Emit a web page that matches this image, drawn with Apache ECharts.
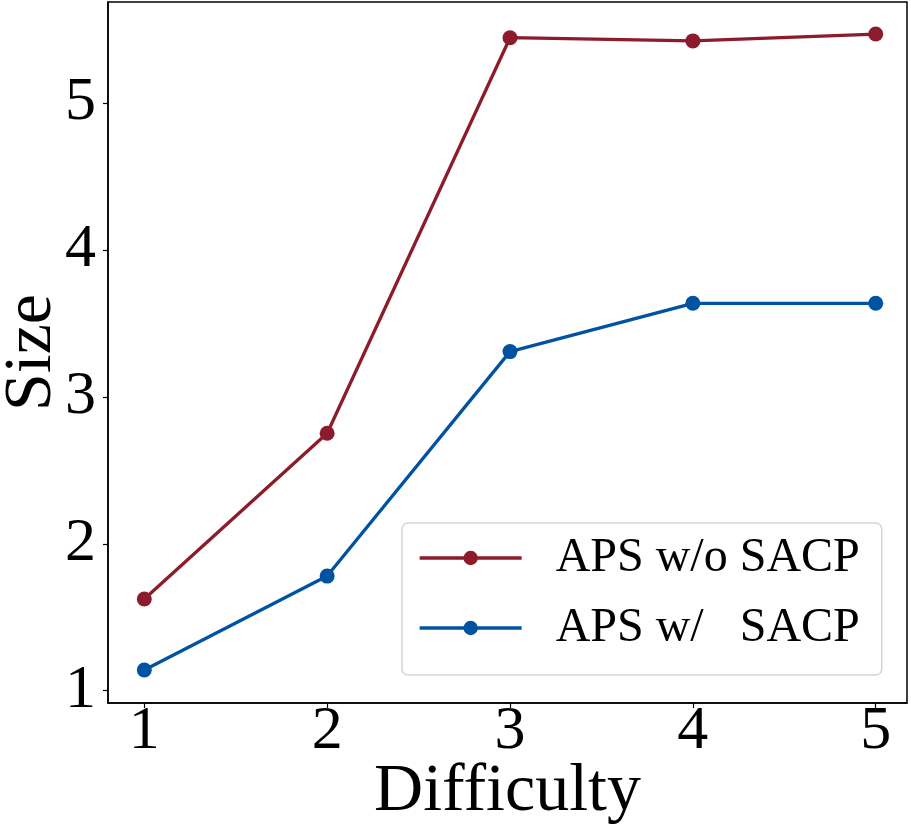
<!DOCTYPE html>
<html>
<head>
<meta charset="utf-8">
<script src="https://cdn.jsdelivr.net/npm/echarts@6/dist/echarts.min.js"></script>
<style>
  html, body { margin: 0; padding: 0; background: #fff; }
  #container { width: 911px; height: 832px; }
</style>
</head>
<body>
<div id="container"></div>
<script>
var difficulty = [1, 2, 3, 4, 5];
var sizeWithoutSacp = [1.624, 2.752, 5.445, 5.423, 5.47];
var sizeWithSacp = [1.141, 1.78, 3.308, 3.637, 3.637];
var xTicks = [1, 2, 3, 4, 5];
var yTicks = [1, 2, 3, 4, 5];
var seriesNames = ['APS w/o SACP', 'APS w/   SACP'];

var FONT = '"Liberation Serif", "Times New Roman", serif';

function pairs(xs, ys) {
  return xs.map(function (x, i) { return [x, ys[i]]; });
}

var dom = document.getElementById('container');
var myChart = echarts.init(dom, null, { renderer: 'canvas' });
var option;

option = {
  backgroundColor: '#fff',
  animation: false,
  grid: {
    left: 108,
    right: 4,
    top: 2,
    bottom: 129,
    show: true,
    borderColor: '#000',
    borderWidth: 1.5,
    containLabel: false,
    outerBoundsMode: 'none'
  },
  xAxis: {
    type: 'value',
    min: 0.8015,
    max: 5.171,
    name: 'Difficulty',
    nameLocation: 'middle',
    nameGap: 55,
    nameMoveOverlap: false,
    nameTextStyle: { fontFamily: FONT, fontSize: 68, color: '#000' },
    axisLine: { show: true, lineStyle: { color: '#000', width: 1.5 } },
    axisTick: { show: true, length: 5, customValues: xTicks, lineStyle: { color: '#000', width: 1.2 } },
    axisLabel: { customValues: xTicks, fontFamily: FONT, fontSize: 62, color: '#000', margin: -2 },
    splitLine: { show: false }
  },
  yAxis: {
    type: 'value',
    min: 0.916,
    max: 5.688,
    name: 'Size',
    nameLocation: 'middle',
    nameGap: 42,
    nameMoveOverlap: false,
    nameTextStyle: { fontFamily: FONT, fontSize: 68, color: '#000' },
    axisLine: { show: true, lineStyle: { color: '#000', width: 1.5 } },
    axisTick: { show: true, length: 5, customValues: yTicks, lineStyle: { color: '#000', width: 1.2 } },
    axisLabel: { customValues: yTicks, fontFamily: FONT, fontSize: 62, color: '#000', margin: 12 },
    splitLine: { show: false }
  },
  legend: {
    orient: 'vertical',
    left: 402,
    top: 523,
    padding: [10, 22, 22, 16],
    itemGap: 20,
    itemWidth: 102,
    itemHeight: 18,
    backgroundColor: '#fff',
    borderColor: '#d5d5d5',
    borderWidth: 1.5,
    borderRadius: 6,
    lineStyle: { width: 3.3 },
    textStyle: {
      fontFamily: FONT,
      fontSize: 48,
      lineHeight: 50,
      color: '#000',
      padding: [0, 0, 0, 29]
    },
    data: seriesNames
  },
  series: [
    {
      name: seriesNames[0],
      type: 'line',
      data: pairs(difficulty, sizeWithoutSacp),
      symbol: 'circle',
      symbolSize: 15,
      lineStyle: { width: 3.3, color: '#8c1c2c' },
      itemStyle: { color: '#8c1c2c' }
    },
    {
      name: seriesNames[1],
      type: 'line',
      data: pairs(difficulty, sizeWithSacp),
      symbol: 'circle',
      symbolSize: 15,
      lineStyle: { width: 3.3, color: '#0052a2' },
      itemStyle: { color: '#0052a2' }
    }
  ]
};

if (option && typeof option === 'object') {
  myChart.setOption(option);
}

window.addEventListener('resize', myChart.resize);
</script>
</body>
</html>
